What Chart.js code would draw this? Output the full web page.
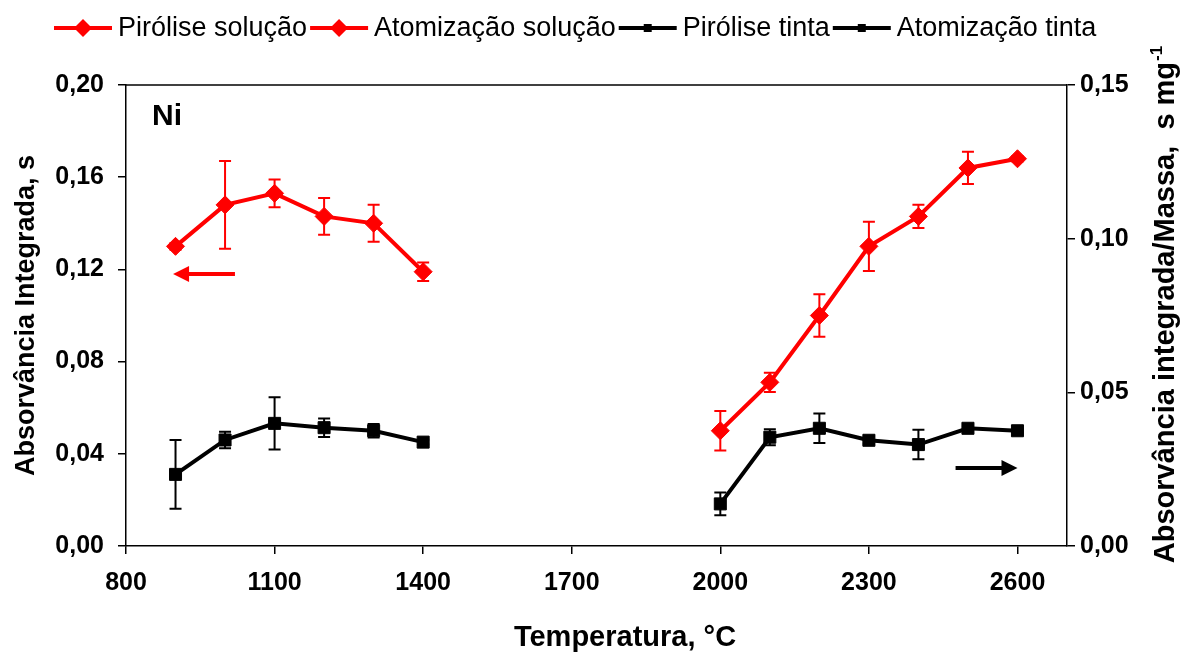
<!DOCTYPE html>
<html>
<head>
<meta charset="utf-8">
<script src="https://cdn.jsdelivr.net/npm/chart.js@4.4.0/dist/chart.umd.min.js"></script>
<style>
  body { margin: 0; background: #fff; }
  #wrap { width: 1181px; height: 654px; }
</style>
</head>
<body>
<div id="wrap"><canvas id="ni-chart" width="1181" height="654"></canvas></div>
<script>
// Temperatures (°C)
const pyroTemps = [900, 1000, 1100, 1200, 1300, 1400];
const atomTemps = [2000, 2100, 2200, 2300, 2400, 2500, 2600];

// Solution: integrated absorbance, s (left axis)
const pyroSolution = [0.130, 0.148, 0.153, 0.143, 0.140, 0.119];
const pyroSolutionErr = [0.0015, 0.019, 0.006, 0.008, 0.008, 0.004];
const atomSolution = [0.050, 0.071, 0.100, 0.130, 0.143, 0.164, 0.168];
const atomSolutionErr = [0.0086, 0.0042, 0.0092, 0.0107, 0.005, 0.007, 0.0012];

// Ink: integrated absorbance / mass, s mg-1 (right axis)
const pyroInk = [0.0233, 0.0345, 0.0399, 0.0385, 0.0375, 0.0338];
const pyroInkErr = [0.0112, 0.0027, 0.0085, 0.003, 0.0022, 0.0008];
const atomInk = [0.0137, 0.0354, 0.0383, 0.0344, 0.0330, 0.0383, 0.0375];
const atomInkErr = [0.0037, 0.0026, 0.0048, 0.0012, 0.0048, 0.0006, 0.0006];

// Axis ticks
const xTicks = [800, 1100, 1400, 1700, 2000, 2300, 2600];
const leftTicks = [0, 0.04, 0.08, 0.12, 0.16, 0.20];
const rightTicks = [0, 0.05, 0.10, 0.15];

const RED = "#ff0000";
const BLACK = "#000000";
const FONT = "'Liberation Sans', Arial, sans-serif";

const toPoints = (xs, ys) => xs.map((x, i) => ({ x, y: ys[i] }));
const comma = (v) => v.toFixed(2).replace(".", ",");

function series(label, xs, ys, errs, color, style, axis) {
  return {
    label,
    data: toPoints(xs, ys),
    errors: errs,
    yAxisID: axis,
    borderColor: color,
    backgroundColor: color,
    borderWidth: 4,
    pointStyle: style,
    pointRadius: style === "rectRot" ? 9 : 8.5,
    pointBorderWidth: 1,
    pointHoverRadius: 9,
    tension: 0,
    fill: false,
  };
}

// vertical error bars with caps
const errorBars = {
  id: "errorBars",
  beforeDatasetsDraw(chart) {
    const ctx = chart.ctx;
    chart.data.datasets.forEach((ds, i) => {
      const meta = chart.getDatasetMeta(i);
      const yScale = chart.scales[ds.yAxisID];
      ctx.save();
      ctx.strokeStyle = ds.borderColor;
      ctx.lineWidth = 2;
      meta.data.forEach((pt, j) => {
        const v = ds.data[j].y;
        const e = ds.errors[j];
        const top = yScale.getPixelForValue(v + e);
        const bot = yScale.getPixelForValue(v - e);
        ctx.beginPath();
        ctx.moveTo(pt.x, top);
        ctx.lineTo(pt.x, bot);
        ctx.moveTo(pt.x - 6, top);
        ctx.lineTo(pt.x + 6, top);
        ctx.moveTo(pt.x - 6, bot);
        ctx.lineTo(pt.x + 6, bot);
        ctx.stroke();
      });
      ctx.restore();
    });
  },
};

// legend row: line + marker, then label
const lineLegend = {
  id: "lineLegend",
  afterDraw(chart) {
    const ctx = chart.ctx;
    let x = 54;
    const y = 28;
    ctx.save();
    ctx.font = "27px " + FONT;
    ctx.textBaseline = "middle";
    chart.data.datasets.forEach((ds) => {
      ctx.strokeStyle = ds.borderColor;
      ctx.fillStyle = ds.borderColor;
      ctx.lineWidth = 4;
      ctx.beginPath();
      ctx.moveTo(x, y);
      ctx.lineTo(x + 58, y);
      ctx.stroke();
      const cx = x + 29;
      ctx.beginPath();
      if (ds.pointStyle === "rectRot") {
        ctx.moveTo(cx, y - 9);
        ctx.lineTo(cx + 9, y);
        ctx.lineTo(cx, y + 9);
        ctx.lineTo(cx - 9, y);
      } else {
        ctx.rect(cx - 4, y - 4, 8, 8);
      }
      ctx.closePath();
      ctx.fill();
      ctx.fillStyle = BLACK;
      ctx.fillText(ds.label, x + 64, y + 1);
      x += 64 + ctx.measureText(ds.label).width + 3;
    });
    ctx.restore();
  },
};

// frame top line, "Ni" label, axis arrows, bottom and right titles
const extras = {
  id: "extras",
  afterDraw(chart) {
    const { ctx, chartArea, scales } = chart;
    ctx.save();
    ctx.strokeStyle = BLACK;
    ctx.lineWidth = 1.5;
    ctx.beginPath();
    ctx.moveTo(chartArea.left, chartArea.top);
    ctx.lineTo(chartArea.right, chartArea.top);
    ctx.stroke();

    ctx.fillStyle = BLACK;
    ctx.font = "bold 30px " + FONT;
    ctx.textBaseline = "top";
    ctx.fillText("Ni", chartArea.left + 26, chartArea.top + 17);

    const arrow = (x0, x1, y, color) => {
      const dir = Math.sign(x1 - x0);
      ctx.strokeStyle = color;
      ctx.fillStyle = color;
      ctx.lineWidth = 4;
      ctx.beginPath();
      ctx.moveTo(x0, y);
      ctx.lineTo(x1 - dir * 14, y);
      ctx.stroke();
      ctx.beginPath();
      ctx.moveTo(x1, y);
      ctx.lineTo(x1 - dir * 16, y - 8);
      ctx.lineTo(x1 - dir * 16, y + 8);
      ctx.closePath();
      ctx.fill();
    };
    arrow(scales.x.getPixelForValue(1020), scales.x.getPixelForValue(895),
      scales.y.getPixelForValue(0.118), RED);
    arrow(scales.x.getPixelForValue(2475), scales.x.getPixelForValue(2600),
      scales.y2.getPixelForValue(0.0254), BLACK);

    // x title
    ctx.fillStyle = BLACK;
    ctx.font = "bold 29px " + FONT;
    ctx.textAlign = "center";
    ctx.textBaseline = "middle";
    ctx.fillText("Temperatura, °C", 625, 638);

    // right title, reading bottom to top, with superscript
    const main = "Absorvância integrada/Massa,  s mg";
    const sup = "-1";
    ctx.translate(1164, 305);
    ctx.rotate(-Math.PI / 2);
    ctx.font = "bold 29px " + FONT;
    const wMain = ctx.measureText(main).width;
    ctx.font = "bold 17px " + FONT;
    const wSup = ctx.measureText(sup).width;
    const start = -(wMain + wSup) / 2;
    ctx.textAlign = "left";
    ctx.textBaseline = "alphabetic";
    ctx.font = "bold 29px " + FONT;
    ctx.fillText(main, start, 10);
    ctx.font = "bold 17px " + FONT;
    ctx.fillText(sup, start + wMain + 1, -2);
    ctx.restore();
  },
};

const tickFont = { family: FONT, size: 25, weight: "bold" };
const titleFont = { family: FONT, size: 27, weight: "bold" };

new Chart(document.getElementById("ni-chart"), {
  type: "line",
  data: {
    datasets: [
      series("Pirólise solução", pyroTemps, pyroSolution, pyroSolutionErr, RED, "rectRot", "y"),
      series("Atomização solução", atomTemps, atomSolution, atomSolutionErr, RED, "rectRot", "y"),
      series("Pirólise tinta", pyroTemps, pyroInk, pyroInkErr, BLACK, "rect", "y2"),
      series("Atomização tinta", atomTemps, atomInk, atomInkErr, BLACK, "rect", "y2"),
    ],
  },
  options: {
    responsive: false,
    animation: false,
    layout: { padding: { top: 85, left: 0, right: 0, bottom: 0 } },
    plugins: {
      legend: { display: false },
      tooltip: { enabled: false },
    },
    scales: {
      x: {
        type: "linear",
        min: 800,
        max: 2700,
        afterBuildTicks: (scale) => { scale.ticks = xTicks.map((value) => ({ value })); },
        afterFit: (scale) => { scale.height = 108; },
        grid: { drawOnChartArea: false, color: BLACK, tickLength: 8, lineWidth: 1.5 },
        border: { color: BLACK, width: 1.5 },
        ticks: { color: BLACK, font: tickFont, padding: 14, maxRotation: 0, callback: (v) => String(v) },
      },
      y: {
        position: "left",
        min: 0,
        max: 0.2,
        afterBuildTicks: (scale) => { scale.ticks = leftTicks.map((value) => ({ value })); },
        afterFit: (scale) => { scale.width = 126; },
        grid: { drawOnChartArea: false, color: BLACK, tickLength: 8, lineWidth: 1.5 },
        border: { color: BLACK, width: 1.5 },
        ticks: { color: BLACK, font: tickFont, padding: 14, callback: comma },
        title: { display: true, text: "Absorvância Integrada, s", color: BLACK, font: titleFont, padding: { top: 10, bottom: 0 } },
      },
      y2: {
        position: "right",
        min: 0,
        max: 0.15,
        afterBuildTicks: (scale) => { scale.ticks = rightTicks.map((value) => ({ value })); },
        afterFit: (scale) => { scale.width = 114; },
        grid: { drawOnChartArea: false, color: BLACK, tickLength: 8, lineWidth: 1.5 },
        border: { color: BLACK, width: 1.5 },
        ticks: { color: BLACK, font: tickFont, padding: 5, callback: comma },
      },
    },
  },
  plugins: [errorBars, lineLegend, extras],
});
</script>
</body>
</html>
